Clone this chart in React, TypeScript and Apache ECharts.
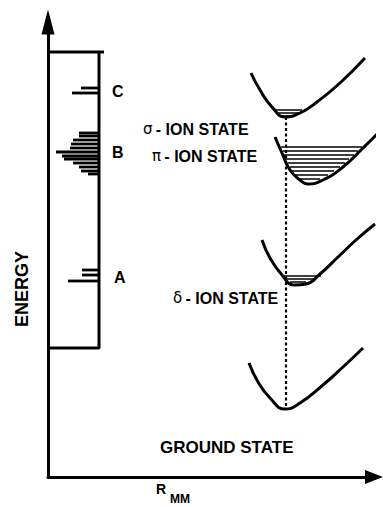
import React, { useEffect, useRef } from "react";
import * as echarts from "echarts";

// Diagram units: x = R_MM (arbitrary), y = energy (arbitrary)
const sigmaCurve: number[][] = [[203, 404], [212, 387], [224, 370], [237, 360], [252, 364], [269, 375], [292, 394], [317, 419]];
const piCurve: number[][] = [[227, 340], [234, 324], [242, 307], [252, 297], [260, 293], [275, 297], [295, 310], [315, 329], [335, 349]];
const deltaCurve: number[][] = [[214, 237], [222, 219], [234, 202], [246, 192], [258, 193], [272, 203], [290, 220], [308, 237], [327, 253]];
const groundCurve: number[][] = [[201, 114], [210, 95], [222, 79], [237, 68], [252, 74], [275, 92], [295, 110], [315, 129]];

// vibrational level hatching: [xStart, xEnd, energy]
const sigmaLevels: number[][] = [[225, 254, 367], [228, 250, 364], [233, 244, 361]];
const piLevels: number[][] = [
  [233, 314, 330], [235, 310, 326], [236, 306, 322], [238, 301, 318], [240, 297, 314],
  [242, 292, 310], [244, 286, 306], [247, 280, 302], [252, 272, 298],
];
const deltaLevels: number[][] = [[235, 273, 201], [238, 268, 198], [242, 258, 195]];

// spectrum lines: [energy, intensity]
const peaksC: number[][] = [[389, 18], [384, 27]];
const peaksB: number[][] = [
  [344, 20], [341, 20], [337, 26], [333, 28], [329, 29], [325, 43],
  [321, 37], [318, 35], [314, 26], [310, 20], [306, 18], [303, 11],
];
const peaksA: number[][] = [[207, 17], [202, 17], [196, 31]];

const boxTop: number[][] = [[0, 425], [56, 425]];
const boxRightBottom: number[][] = [[51, 425], [51, 129], [0, 129]];
const equilibrium: number[][] = [[238, 360], [238, 68]];

const SPECTRUM_EDGE = 51;

export default function App() {
  const ref = useRef<HTMLDivElement>(null);
  useEffect(() => {
    if (!ref.current) return;
    const chart = echarts.init(ref.current, null, { renderer: "svg" });
    const black = "#000";
    const curve = (data: number[][]) => ({
      type: "line",
      data,
      smooth: 0.5,
      showSymbol: false,
      symbol: "none",
      clip: false,
      silent: true,
      lineStyle: { color: black, width: 3 },
    });
    const segs = (data: number[][], w: number) => ({
      type: "custom",
      data,
      clip: false,
      silent: true,
      encode: { x: [0, 1], y: 2 },
      renderItem: (_p: any, api: any) => {
        const a = api.coord([api.value(0), api.value(2)]);
        const b = api.coord([api.value(1), api.value(2)]);
        return {
          type: "line",
          shape: { x1: a[0], y1: a[1], x2: b[0], y2: b[1] },
          style: { stroke: black, lineWidth: w },
        };
      },
    });
    const peaks = (data: number[][]) => ({
      type: "custom",
      data,
      clip: false,
      silent: true,
      encode: { y: 0 },
      renderItem: (_p: any, api: any) => {
        const a = api.coord([SPECTRUM_EDGE - api.value(1), api.value(0)]);
        const b = api.coord([SPECTRUM_EDGE, api.value(0)]);
        return {
          type: "line",
          shape: { x1: a[0], y1: a[1], x2: b[0], y2: b[1] },
          style: { stroke: black, lineWidth: 2.8 },
        };
      },
    });
    const bold = (size: number) => `bold ${size}px "Liberation Sans", Arial, sans-serif`;
    const txt = (text: string, x: number, y: number, size: number, align = "left", extra: any = {}) => ({
      type: "text",
      x,
      y,
      silent: true,
      ...extra,
      style: { text, fill: black, font: bold(size), align, verticalAlign: "middle" },
    });
    const ionLabel = (greek: string, x: number, y: number) => ({
      type: "text",
      x,
      y,
      silent: true,
      style: {
        text: `{g|${greek}} {t|- ION STATE}`,
        align: "left",
        verticalAlign: "middle",
        rich: {
          g: { font: `15px "DejaVu Sans", sans-serif`, fill: black },
          t: { font: bold(16), fill: black },
        },
      },
    });
    chart.setOption({
      animation: false,
      backgroundColor: "#fff",
      grid: { left: 48, right: 9, top: 22, bottom: 30, containLabel: false },
      xAxis: {
        type: "value",
        min: 0,
        max: 326,
        axisLine: { show: true, onZero: false, symbol: ["none", "triangle"], symbolSize: [14, 18], lineStyle: { color: black, width: 3 } },
        axisTick: { show: false },
        axisLabel: { show: false },
        splitLine: { show: false },
      },
      yAxis: {
        type: "value",
        min: 0,
        max: 455,
        axisLine: { show: true, onZero: false, symbol: ["none", "triangle"], symbolSize: [13, 25], lineStyle: { color: black, width: 3 } },
        axisTick: { show: false },
        axisLabel: { show: false },
        splitLine: { show: false },
      },
      series: [
        curve(sigmaCurve),
        curve(piCurve),
        curve(deltaCurve),
        curve(groundCurve),
        segs(sigmaLevels, 1.5),
        segs(piLevels, 1.5),
        segs(deltaLevels, 1.5),
        peaks(peaksC),
        peaks(peaksB),
        peaks(peaksA),
        { type: "line", data: boxTop, showSymbol: false, symbol: "none", silent: true, lineStyle: { color: black, width: 3 } },
        { type: "line", data: boxRightBottom, showSymbol: false, symbol: "none", silent: true, lineStyle: { color: black, width: 3 } },
        { type: "line", data: equilibrium, showSymbol: false, symbol: "none", silent: true, lineStyle: { color: black, width: 2.2, type: [3, 2.5] } },
      ],
      graphic: [
        txt("C", 112, 91, 16),
        txt("B", 112, 152, 16),
        txt("A", 114, 277, 16),
        txt("ENERGY", 22, 289, 18, "center", { rotation: Math.PI / 2 }),
        ionLabel("σ", 143, 129),
        ionLabel("π", 152, 156),
        ionLabel("δ", 173, 298),
        txt("GROUND STATE", 160, 447, 17),
        txt("R", 156, 489, 14),
        txt("MM", 170, 499, 12),
      ],
    });
    return () => chart.dispose();
  }, []);
  return <div ref={ref} style={{ position: "fixed", left: 0, top: 0, width: 383, height: 507, background: "#fff" }} />;
}
